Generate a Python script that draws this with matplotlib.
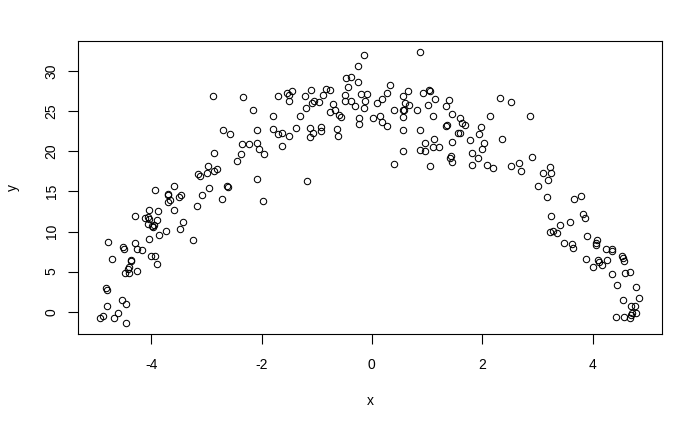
import matplotlib
matplotlib.use("Agg")
import matplotlib.pyplot as plt

plt.rcParams['font.family'] = ['Liberation Sans', 'DejaVu Sans']

x_vals = [
    -3.93, -3.58, -3.70, -3.69, -3.46, -3.49, -3.69, -3.66, -3.58, -4.29,
    -4.04, -3.88, -4.11, -4.05, -4.04, -3.90, -4.05, -3.99, -3.96, -3.95,
    -3.42, -3.47, -3.73, -3.86, -4.04, -3.24, -4.78, -4.51, -4.50, -4.29,
    -4.25, -4.16, -4.71, -4.37, -4.37, -4.01, -3.93, -3.89, -4.40, -4.42,
    -4.47, -4.40, -4.25, -4.81, -4.80, -4.52, -4.45, -4.80, -4.60, -4.93,
    -4.87, -4.67, -4.45,
    -2.88, -2.33, -1.71, -2.15, -1.80, -2.69, -2.57, -2.09, -1.80, -1.71,
    -2.35, -2.22, -2.08, -2.04, -1.95, -2.37, -2.86, -2.45, -2.97, -3.15,
    -3.12, -2.98, -2.86, -2.80, -2.09, -2.96, -2.63, -2.60, -3.07, -2.71,
    -1.97, -3.17,
    -0.15, -0.26, -0.47, -0.37, -0.26, -0.44, -1.53, -1.45, -1.50, -1.51,
    -1.11, -1.22, -0.83, -0.75, -0.88, -0.48, -0.48, -0.38, -0.30, -0.19,
    -0.09, -0.13, -0.15, -1.04, -1.09, -0.95, -1.20, -0.70, -0.66, -0.76,
    -0.59, -0.56, -1.30, -0.24, -0.24, -1.63, -1.50, -1.37, -1.13, -1.06,
    -1.13, -0.93, -0.93, -0.64, -0.62, -1.62, -1.17,
    0.88, 0.32, 0.27, 0.18, 0.10, 0.65, 0.57, 0.60, 0.68, 0.92,
    1.04, 1.06, 1.14, 1.01, 1.39, 1.34, 0.02, 0.14, 0.19, 0.27,
    0.41, 0.56, 0.59, 0.57, 0.81, 1.10, 1.46, 1.60, 1.64, 1.68,
    1.35, 1.37, 0.56, 0.88, 0.96, 1.12, 1.46, 1.57, 1.59, 0.88,
    0.96, 1.10, 1.21, 0.57, 1.44, 1.42, 1.46, 0.41, 1.05, 1.77,
    2.32, 2.53, 2.15, 2.86, 1.97, 1.95, 2.35, 2.04, 1.99, 1.81,
    1.92, 1.81, 2.08, 2.19, 2.52, 2.66, 2.70, 2.90, 3.22, 3.11,
    3.24, 3.19, 3.01, 3.17, 3.24, 3.41,
    3.67, 3.79, 3.82, 3.86, 3.59, 3.22, 3.28, 3.35, 3.90, 3.49,
    3.62, 3.64, 4.08, 4.07, 4.07, 4.25, 4.35, 4.36, 4.54, 4.56,
    4.57, 3.88, 4.09, 4.11, 4.17, 4.27, 4.00, 4.36, 4.58, 4.68,
    4.44, 4.79, 4.55, 4.85, 4.70, 4.77, 4.78, 4.71, 4.69, 4.43,
    4.57, 4.68,
]

y_vals = [
    15.12, 15.74, 14.74, 14.53, 14.50, 14.32, 13.70, 13.91, 12.63, 11.95,
    12.63, 12.50, 11.71, 11.83, 11.58, 11.38, 10.96, 10.71, 10.59, 10.83,
    11.13, 10.26, 10.01, 9.55, 9.02, 8.89, 8.64, 8.02, 7.81, 8.59,
    7.81, 7.68, 6.53, 6.44, 6.35, 6.94, 6.94, 5.94, 5.53, 5.28,
    4.82, 4.82, 5.07, 2.91, 2.70, 1.46, 0.92, 0.71, -0.20, -0.82,
    -0.54, -0.75, -1.44,
    26.95, 26.74, 26.86, 25.20, 24.37, 22.71, 22.22, 22.71, 22.75, 22.22,
    20.97, 20.88, 21.01, 20.26, 19.64, 19.73, 19.85, 18.77, 18.18, 17.15,
    16.94, 17.36, 17.61, 17.86, 16.61, 15.49, 15.65, 15.57, 14.50, 14.12,
    13.87, 13.16,
    32.05, 30.68, 29.10, 29.23, 28.69, 27.98, 27.32, 27.48, 27.07, 26.28,
    27.70, 26.86, 27.82, 27.70, 27.07, 27.07, 26.28, 26.24, 25.65, 27.20,
    27.11, 26.28, 25.45, 26.33, 25.99, 26.20, 25.45, 25.86, 25.12, 24.87,
    24.53, 24.33, 24.46, 24.21, 23.37, 22.34, 21.97, 22.96, 22.91, 22.25,
    21.79, 23.04, 22.50, 22.84, 21.97, 20.72, 16.36,
    32.43, 28.32, 27.32, 26.57, 26.08, 27.57, 26.86, 26.08, 25.83, 27.32,
    27.70, 27.48, 26.57, 25.83, 26.45, 25.70, 24.21, 24.46, 23.71, 23.21,
    25.20, 25.20, 25.12, 24.33, 25.20, 24.46, 24.71, 24.21, 23.59, 23.34,
    23.21, 23.29, 22.63, 22.63, 21.10, 21.59, 21.13, 22.34, 22.34, 20.22,
    20.10, 20.60, 20.51, 20.01, 19.43, 19.23, 18.73, 18.48, 18.23, 21.47,
    26.70, 26.20, 24.46, 24.46, 23.09, 22.22, 21.59, 21.10, 20.35, 19.85,
    19.23, 18.36, 18.27, 17.98, 18.23, 18.52, 17.61, 19.35, 18.11, 17.36,
    17.36, 16.40, 15.62, 14.25, 11.88, 10.76,
    14.12, 14.41, 12.13, 11.63, 11.21, 9.93, 10.05, 9.76, 9.43, 8.59,
    8.39, 7.90, 8.93, 8.59, 8.31, 7.81, 7.77, 7.60, 6.97, 6.72,
    6.31, 6.56, 6.44, 6.15, 5.78, 6.44, 5.53, 4.69, 4.78, 4.91,
    3.32, 3.08, 1.46, 1.71, 0.75, 0.75, -0.16, -0.12, -0.37, -0.62,
    -0.62, -0.75,
]

x_ticks = [-4, -2, 0, 2, 4]
y_ticks = [0, 5, 10, 15, 20, 25, 30]

fig = plt.figure(figsize=(7.0, 4.32), dpi=100)
ax = fig.add_axes([0.1119, 0.2269, 0.8331, 0.6782])

ax.plot(x_vals, y_vals, linestyle='none', marker='o', markerfacecolor='none',
        markeredgecolor='black', markersize=4.6, markeredgewidth=0.75)

ax.set_xlim(-5.32, 5.25)
ax.set_ylim(-2.79, 33.78)
ax.set_xticks(x_ticks)
ax.set_yticks(y_ticks)
ax.set_xticklabels([str(v) for v in x_ticks])
ax.set_yticklabels([str(v) for v in y_ticks], rotation=90, va='center')

for sp in ax.spines.values():
    sp.set_linewidth(0.8)
    sp.set_color('black')

ax.tick_params(axis='both', direction='out', length=7.2, width=0.8,
               colors='black', labelsize=10)
ax.tick_params(axis='x', pad=10)
ax.tick_params(axis='y', pad=7)

ax.set_xlabel('x', fontsize=10, labelpad=16)
ax.set_ylabel('y', fontsize=10, labelpad=18)

fig.savefig('out.png', dpi=100)
